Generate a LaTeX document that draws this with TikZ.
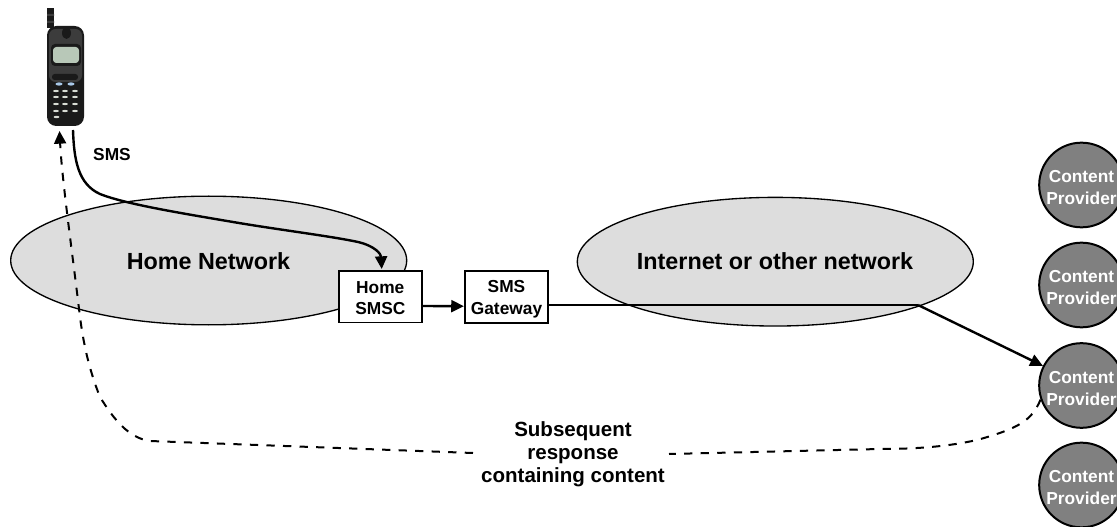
\documentclass[tikz,border=0pt]{standalone}
\usepackage{fontspec}
\setmainfont{Liberation Sans}
\usetikzlibrary{arrows.meta,shapes.geometric}
\definecolor{ellfill}{HTML}{DDDDDD}
\definecolor{provfill}{HTML}{808080}
\definecolor{phoneblack}{HTML}{1A1A1A}
\definecolor{phonegrey}{HTML}{3C3C3C}
\definecolor{phonescreen}{HTML}{B8C8B8}
\definecolor{phonekey}{HTML}{D8DCD4}
\definecolor{phoneblue}{HTML}{A8C8E8}
\tikzset{
  x=0.75pt,y=-0.75pt,
  net/.style={draw=black,fill=ellfill,ellipse,line width=1pt,minimum width=297pt,minimum height=96.5pt,inner sep=0pt},
  boxnode/.style={draw=black,fill=white,line width=1.4pt,minimum width=62.5pt,minimum height=38.5pt,inner sep=0pt},
  boxtext/.style={font=\bfseries\fontsize{13}{16}\selectfont,align=center,inner sep=0pt},
  provider/.style={draw=black,fill=provfill,circle,line width=1.5pt,minimum size=63.5pt,inner sep=0pt},
  provtext/.style={text=white,font=\bfseries\fontsize{13}{16.5}\selectfont,align=center,inner sep=0pt,yshift=-1.9pt},
  tipstyle/.style={-{Triangle[length=9.5pt,width=9pt]}},
  link/.style={line width=1.8pt,tipstyle},
  plainlink/.style={line width=1.8pt},
  backlink/.style={line width=1.5pt,dash pattern=on 6.2pt off 6.2pt},
  lbl/.style={font=\bfseries\fontsize{13}{16}\selectfont,align=center,inner sep=0pt},
  resplbl/.style={font=\bfseries\fontsize{15.4}{17.25}\selectfont,align=center,inner sep=0pt},
  netlbl/.style={font=\bfseries\fontsize{17.5}{21}\selectfont,inner sep=0pt},
}
\begin{document}
\begin{tikzpicture}
\useasboundingbox (0,0) rectangle (1117,527);
\clip (0,0) rectangle (1117,527);
% networks
\node[net] (home) at (208.7,260.5) {};
\node[net] (inet) at (775.3,261.7) {};
\node[netlbl] (homelbl) at (208.5,261.5) {Home Network};
\node[netlbl] (inetlbl) at (775,261.5) {Internet or other network};
% boxes
\node[boxnode] (smsc) at (380.3,296.8) {};
\node[boxnode] (gw) at (506.5,297) {};
\node[boxtext,yshift=-0.8pt] (smsct) at (smsc) {Home\\SMSC};
\node[boxtext,yshift=-1.5pt,font=\bfseries\fontsize{13}{16.5}\selectfont] (gwt) at (gw) {SMS\\Gateway};
% providers
\node[provider] (p1) at (1081.5,185) {};
\node[provider] (p2) at (1081.5,285) {};
\node[provider] (p3) at (1081.5,385.5) {};
\node[provider] (p4) at (1081.5,485) {};
\node[provtext] (p1t) at (p1) {Content\\Provider};
\node[provtext] (p2t) at (p2) {Content\\Provider};
\node[provtext] (p3t) at (p3) {Content\\Provider};
\node[provtext] (p4t) at (p4) {Content\\Provider};
% phone
\fill[phoneblack] (47,8) rectangle (54,28);
\fill[phonegrey] (47,14) rectangle (54,16) (47,21) rectangle (54,23);
\fill[phoneblack,rounded corners=7pt] (47,26) rectangle (84,126);
\fill[phonegrey,rounded corners=5pt] (49,29) rectangle (82,82);
\fill[phoneblack] (66.5,33) ellipse (4.5 and 6);
\fill[phoneblack,rounded corners=3pt] (51,44) rectangle (81,66);
\fill[phonescreen,rounded corners=2.5pt] (53,47) rectangle (79,63);
\fill[phoneblack,rounded corners=2pt] (52,74) rectangle (78,80);
\fill[phoneblue] (59,84) ellipse (3.5 and 1.6) (71,84) ellipse (3.5 and 1.6);
\foreach \yy in {91,97,104,111}{
  \fill[phonekey] (56,\yy) ellipse (3 and 1.1) (65,\yy) ellipse (3 and 1.1) (75,\yy) ellipse (3 and 1.1);
}
\fill[phonekey] (56.5,117) ellipse (3 and 1.2);
\coordinate (phoneout) at (73,130);
\coordinate (phonein) at (59.5,131);
% labels
\node[lbl] (smslbl) at (112,155) {SMS};
\node[resplbl] (resp) at (573,454) {Subsequent\\response\\containing content};
\coordinate (respL) at (473,453);
\coordinate (respR) at (669,454);
\coordinate (bend) at (918,305);
% connectors
\draw[link] (phoneout) .. controls (74,160) and (78,184) .. (100,194)
  .. controls (125,204) and (180,213) .. (233,222)
  .. controls (280,230) and (330,236) .. (358,242)
  .. controls (375,246) and (381,254) .. (381.7,269);
\draw[link] ([yshift=-6.9pt]smsc.east) -- ([yshift=-6.9pt]gw.west);
\draw[plainlink] ([yshift=-6pt]gw.east) -- (bend);
\draw[link] (bend) -- (p3.153);
\draw[backlink,tipstyle] (respL) -- (150,441)
  .. controls (128,438) and (113,418) .. (100,397)
  .. controls (88,367) and (83,340) .. (80,317)
  .. controls (72,250) and (62,180) .. (phonein);
\draw[backlink] (p3.199) .. controls (1032,420) and (1020,428) .. (977,440)
  .. controls (950,446) and (920,449) .. (880,449) -- (respR);
\end{tikzpicture}
\end{document}
